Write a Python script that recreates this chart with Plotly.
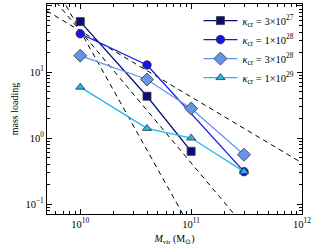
import plotly.graph_objects as go

# ---- data ----
mass_sq = [1e10, 4e10, 1e11]
load_sq = [58, 4.3, 0.63]

mass_ci = [1e10, 4e10, 3e11]
load_ci = [38, 12.8, 0.31]

mass_di = [1e10, 4e10, 1e11, 3e11]
load_di = [17.7, 7.7, 2.8, 0.56]

mass_tr = [1e10, 4e10, 1e11, 3e11]
load_tr = [5.9, 1.4, 1.0, 0.31]

# power-law guide lines (end points)
guide1_x = [1e9, 1e12]
guide1_y = [420, 0.42]
guide2_x = [1e9, 1e12]
guide2_y = [4200, 0.0042]
guide3_x = [1e9, 1e12]
guide3_y = [42000, 4.2e-5]

x_tickvals = [1e10, 1e11, 1e12]
x_ticktext = ["10<sup>10</sup>", "10<sup>11</sup>", "10<sup>12</sup>"]
y_tickvals = [0.1, 1, 10, 100]
y_ticktext = ["10<sup>−1</sup>", "10<sup>0</sup>", "10<sup>1</sup>", "10<sup>2</sup>"]

labels = [
    "<i>κ</i><sub>cr</sub> = 3×10<sup>27</sup>",
    "<i>κ</i><sub>cr</sub> = 1×10<sup>28</sup>",
    "<i>κ</i><sub>cr</sub> = 3×10<sup>28</sup>",
    "<i>κ</i><sub>cr</sub> = 1×10<sup>29</sup>",
]

FONT = "Liberation Serif"

fig = go.Figure()

for gx, gy in [(guide1_x, guide1_y), (guide2_x, guide2_y), (guide3_x, guide3_y)]:
    fig.add_trace(go.Scatter(x=gx, y=gy, mode="lines", showlegend=False,
                             line=dict(color="black", width=1, dash="5px,4px"),
                             hoverinfo="skip"))

series = [
    (mass_sq, load_sq, "#0c0c7a", "square", 8, labels[0]),
    (mass_ci, load_ci, "#1616e6", "circle", 8.5, labels[1]),
    (mass_di, load_di, "#6495ed", "diamond", 10, labels[2]),
    (mass_tr, load_tr, "#1eb9ee", "triangle-up", 8, labels[3]),
]
for mx, my, col, sym, sz, lab in series:
    fig.add_trace(go.Scatter(
        x=mx, y=my, mode="lines+markers", name=lab,
        line=dict(color=col, width=1.3),
        marker=dict(symbol=sym, size=sz, color=col,
                    line=dict(color="#333333", width=0.8)),
    ))

axis_common = dict(
    type="log", showgrid=False, zeroline=False,
    showline=True, linecolor="black", linewidth=1.2, mirror="allticks",
    ticks="inside", ticklen=5, tickwidth=0.8, tickcolor="black",
    tickfont=dict(family=FONT, size=10.5, color="black"),
    minor=dict(ticks="inside", ticklen=2.5, tickwidth=0.6, tickcolor="black",
               dtick="D1", showgrid=False),
)

fig.update_layout(
    width=315, height=250,
    margin=dict(l=47, r=13, t=4, b=36),
    paper_bgcolor="white", plot_bgcolor="white",
    font=dict(family=FONT, color="black", size=10),
    xaxis=dict(range=[9.70, 12.0], tickmode="array", tickvals=x_tickvals,
               ticktext=x_ticktext,
               title=dict(text="<i>M</i><sub>vir</sub> (M<sub>⊙</sub>)",
                          font=dict(family=FONT, size=10), standoff=6),
               **axis_common),
    yaxis=dict(range=[-1.15, 2.03], tickmode="array", tickvals=y_tickvals,
               ticktext=y_ticktext,
               title=dict(text="mass loading", font=dict(family=FONT, size=10),
                          standoff=4),
               **axis_common),
    legend=dict(x=0.99, y=0.99, xanchor="right", yanchor="top",
                bgcolor="rgba(255,255,255,0)", borderwidth=0,
                font=dict(family=FONT, size=10.5), tracegroupgap=0,
                itemwidth=34),
    showlegend=True,
)

fig.write_html("out.html", config={"displayModeBar": False},
               post_script="document.body.style.margin='0';document.body.style.padding='0';")
